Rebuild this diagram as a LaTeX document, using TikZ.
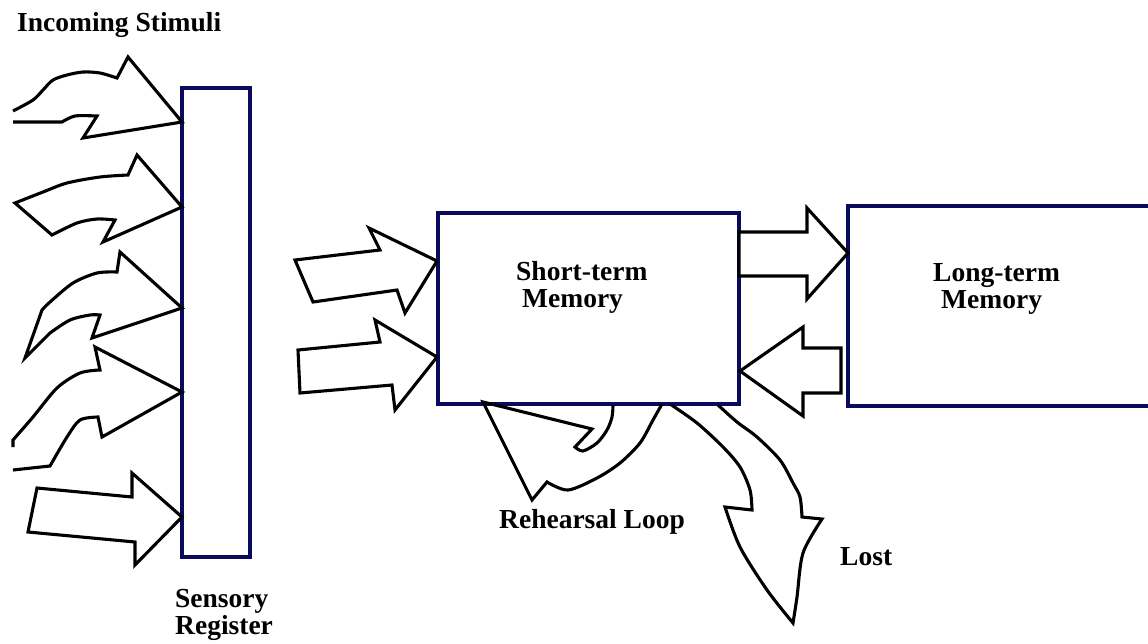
\documentclass[tikz,border=0pt]{standalone}
\usepackage{fontspec}
\setmainfont{Liberation Serif}
\definecolor{boxline}{RGB}{10,10,95}
\begin{document}
\begin{tikzpicture}[x=1pt,y=-1pt,
  box/.style={draw=boxline, line width=4pt, inner sep=0pt, outer sep=0pt, anchor=north west},
  blockarrow/.style={draw=black, line width=3.1pt, line join=miter, fill=white},
  openarrow/.style={draw=black, line width=3.1pt, line join=miter},
  lbl/.style={font=\fontsize{27.5}{27.5}\selectfont\bfseries, anchor=base west, inner sep=0pt}]
\clip (0,0) rectangle (1148,643);
\fill[white] (0,0) rectangle (1148,643);

% memory stores
\node[box, minimum width=68pt, minimum height=469pt] (sr) at (182,88) {};
\node[box, minimum width=301pt, minimum height=191pt] (stm) at (438,213) {};
\node[box, minimum width=330pt, minimum height=200.5pt] (ltm) at (848,205.5) {};

% incoming stimuli reaching the sensory register
\draw[openarrow] (13,122) -- (62,122)
  -- plot[smooth] coordinates {(62,122) (75,116) (97,116)}
  -- (83,138) -- (182,122) -- (128,57) -- (117,78)
  -- plot[smooth] coordinates {(117,78) (100,73) (83,72) (67,75) (53,80) (43,90) (33,100) (13,111)};
\draw[blockarrow] (15,203)
  -- plot[smooth] coordinates {(15,203) (43,192) (67,183) (100,177) (128,175)}
  -- (137,155) -- (182,207) -- (103,242) -- (115,220)
  -- plot[smooth] coordinates {(115,220) (97,219) (77,223) (52,235)} -- cycle;
\draw[blockarrow] (25,358) -- (42,310)
  -- plot[smooth] coordinates {(42,310) (50,302) (73,283) (97,273) (117,272)}
  -- (120,252) -- (182,308) -- (92,338) -- (100,315)
  -- plot[smooth] coordinates {(100,315) (90,315) (70,320) (50,333)} -- cycle;
\draw[openarrow] (13,447)
  -- plot[smooth] coordinates {(13,440) (33,417) (57,388) (80,373) (100,370)}
  -- (95,347) -- (182,392) -- (102,437) -- (98,417)
  -- plot[smooth] coordinates {(98,417) (80,420) (67,437) (50,466)} -- (13,470);
\draw[blockarrow] (37,488) -- (132,497) -- (132,473) -- (182,517)
  -- (135,565) -- (135,542) -- (28,532) -- cycle;

% from the sensory register into short-term memory
\draw[blockarrow] (295,260) -- (380,250) -- (369,228) -- (437,261)
  -- (405,313) -- (397,290) -- (313,302) -- cycle;
\draw[blockarrow] (298,350) -- (380,342) -- (375,320) -- (437,357)
  -- (395,410) -- (392,385) -- (300,393) -- cycle;

% transfer and retrieval
\draw[blockarrow] (739,232) -- (807,232) -- (807,208) -- (848,253)
  -- (807,299) -- (807,276) -- (739,276) -- cycle;
\draw[blockarrow] (841,348) -- (803,348) -- (803,327) -- (740,371)
  -- (803,416) -- (803,393) -- (841,393) -- cycle;

% rehearsal loop
\draw[openarrow]
  plot[smooth] coordinates {(662,404) (653,420) (640,443) (620,463) (597,478) (568,490) (547,482)}
  -- (532,500) -- (483,402) -- (592,429) -- (575,447)
  -- plot[smooth] coordinates {(575,447) (583,451) (597,443) (607,430) (612,417) (613,405)};

% lost
\draw[openarrow]
  plot[smooth] coordinates {(670,404) (697,423) (723,447) (740,467) (750,490) (752,510)}
  -- (725,507)
  -- plot[smooth] coordinates {(725,507) (740,547) (767,590) (793,623)}
  -- plot[smooth] coordinates {(793,623) (797,597) (803,553) (822,519)}
  -- (802,517)
  -- plot[smooth] coordinates {(802,517) (800,497) (793,483) (780,460) (757,437) (737,422) (718,405)};

% labels
\node[lbl] (tin) at (17,31) {Incoming Stimuli};
\node[lbl] (tsr1) at (175,607) {Sensory};
\node[lbl] (tsr2) at (175,634) {Register};
\node[lbl] (tstm1) at (516,280) {Short-term};
\node[lbl] (tstm2) at (522,307) {Memory};
\node[lbl] (tltm1) at (933,281) {Long-term};
\node[lbl] (tltm2) at (941,308) {Memory};
\node[lbl] (treh) at (499,528) {Rehearsal Loop};
\node[lbl] (tlost) at (840,565) {Lost};
\end{tikzpicture}
\end{document}
